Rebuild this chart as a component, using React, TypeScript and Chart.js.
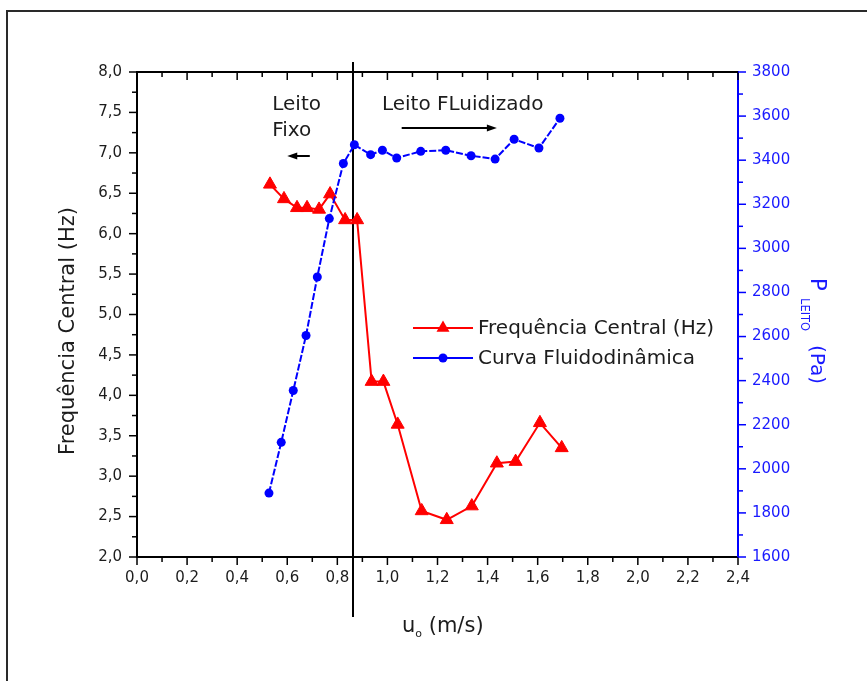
import React, { useEffect, useRef } from 'react';
import { Chart, registerables } from 'chart.js';

Chart.register(...registerables);

// Superficial gas velocity u0 (m/s) for the central-frequency runs
const freqVelocity = [0.531, 0.587, 0.639, 0.679, 0.727, 0.771, 0.831, 0.879, 0.937, 0.984, 1.041, 1.137, 1.237, 1.337, 1.437, 1.512, 1.609, 1.696];
// Central frequency of the pressure signal (Hz)
const centralFrequency = [6.61, 6.43, 6.32, 6.32, 6.3, 6.49, 6.17, 6.17, 4.17, 4.17, 3.64, 2.57, 2.46, 2.63, 3.16, 3.18, 3.66, 3.35];
// Superficial gas velocity u0 (m/s) for the fluid-dynamic curve
const pressureVelocity = [0.527, 0.576, 0.624, 0.675, 0.72, 0.768, 0.824, 0.868, 0.933, 0.98, 1.037, 1.133, 1.233, 1.334, 1.43, 1.506, 1.605, 1.689];
// Bed pressure drop (Pa)
const bedPressure = [1890, 2120, 2355, 2605, 2870, 3135, 3385, 3470, 3425, 3445, 3410, 3440, 3445, 3420, 3405, 3495, 3455, 3590];

// Minimum fluidization velocity (m/s), marked by the vertical line
const minFluidizationVelocity = 0.863;

// Tick values of each axis
const velocityTicks = [0, 0.2, 0.4, 0.6, 0.8, 1.0, 1.2, 1.4, 1.6, 1.8, 2.0, 2.2, 2.4];
const frequencyTicks = [2.0, 2.5, 3.0, 3.5, 4.0, 4.5, 5.0, 5.5, 6.0, 6.5, 7.0, 7.5, 8.0];
const pressureTicks = [1600, 1800, 2000, 2200, 2400, 2600, 2800, 3000, 3200, 3400, 3600, 3800];

const seriesNames = ['Frequência Central (Hz)', 'Curva Fluidodinâmica'];

const RED = '#ff0000';
const BLUE = '#0000ff';
const BLUE_TEXT = '#1a1aff';
const INK = '#1c1c1c';
const FONT = '"DejaVu Sans", "Liberation Sans", sans-serif';

const commaLabel = (v: number) => Number(v).toFixed(1).replace('.', ',');

const midpoints = (vals: number[]) => {
  const out: number[] = [];
  for (let i = 0; i < vals.length - 1; i++) out.push((vals[i] + vals[i + 1]) / 2);
  return out;
};

function triangle(ctx: CanvasRenderingContext2D, x: number, y: number, r: number) {
  ctx.beginPath();
  for (let k = 0; k < 3; k++) {
    const ang = (k * 2 * Math.PI) / 3;
    const px = x + Math.sin(ang) * r;
    const py = y - Math.cos(ang) * r;
    if (k === 0) ctx.moveTo(px, py);
    else ctx.lineTo(px, py);
  }
  ctx.closePath();
  ctx.fill();
}

function arrow(ctx: CanvasRenderingContext2D, x0: number, x1: number, y: number) {
  const dir = Math.sign(x1 - x0);
  ctx.beginPath();
  ctx.moveTo(x0, y);
  ctx.lineTo(x1 - dir * 6, y);
  ctx.stroke();
  ctx.beginPath();
  ctx.moveTo(x1, y);
  ctx.lineTo(x1 - dir * 10, y - 3.5);
  ctx.lineTo(x1 - dir * 10, y + 3.5);
  ctx.closePath();
  ctx.fill();
}

const decorations = {
  id: 'decorations',
  beforeDatasetsDraw(chart: any) {
    const { ctx, chartArea: a, scales } = chart;
    const px = Math.round(scales.x.getPixelForValue(minFluidizationVelocity));
    ctx.save();
    ctx.strokeStyle = '#000';
    ctx.lineWidth = 2;
    ctx.beginPath();
    ctx.moveTo(px, a.top - 10);
    ctx.lineTo(px, a.bottom + 60);
    ctx.stroke();
    ctx.restore();
  },
  afterDraw(chart: any) {
    const { ctx, chartArea: a, scales } = chart;
    const { x, y, y1 } = scales;
    ctx.save();

    // outer frame
    ctx.strokeStyle = '#2a2a2a';
    ctx.lineWidth = 2;
    ctx.beginPath();
    ctx.moveTo(7, chart.height + 2);
    ctx.lineTo(7, 11);
    ctx.lineTo(chart.width + 2, 11);
    ctx.stroke();

    // top axis line
    ctx.strokeStyle = '#000';
    ctx.beginPath();
    ctx.moveTo(a.left, a.top);
    ctx.lineTo(a.right, a.top);
    ctx.stroke();

    // tick marks
    const MAJ = 8;
    const MIN = 5;
    ctx.lineWidth = 1.5;
    const xs = velocityTicks;
    const drawX = (vals: number[], len: number) => {
      vals.forEach((v) => {
        const p = x.getPixelForValue(v);
        ctx.beginPath();
        ctx.moveTo(p, a.bottom);
        ctx.lineTo(p, a.bottom + len);
        ctx.moveTo(p, a.top);
        ctx.lineTo(p, a.top + len);
        ctx.stroke();
      });
    };
    ctx.strokeStyle = '#000';
    drawX(xs, MAJ);
    drawX(midpoints(xs), MIN);

    const drawY = (scale: any, vals: number[], len: number, side: number, base: number) => {
      vals.forEach((v) => {
        const p = scale.getPixelForValue(v);
        ctx.beginPath();
        ctx.moveTo(base, p);
        ctx.lineTo(base + side * len, p);
        ctx.stroke();
      });
    };
    drawY(y, frequencyTicks, MAJ, -1, a.left);
    drawY(y, midpoints(frequencyTicks), MIN, -1, a.left);
    ctx.strokeStyle = BLUE;
    drawY(y1, pressureTicks, MAJ, 1, a.right);
    drawY(y1, midpoints(pressureTicks), MIN, 1, a.right);

    // axis titles
    ctx.fillStyle = INK;
    ctx.textBaseline = 'alphabetic';
    ctx.font = `21px ${FONT}`;
    ctx.save();
    ctx.translate(73.5, 331);
    ctx.rotate(-Math.PI / 2);
    ctx.textAlign = 'center';
    ctx.fillText('Frequência Central (Hz)', 0, 0);
    ctx.restore();

    // bottom title: u0 (m/s)
    ctx.textAlign = 'left';
    let tx = 402;
    const by = 632;
    ctx.font = `21px ${FONT}`;
    ctx.fillText('u', tx, by);
    tx += ctx.measureText('u').width;
    ctx.font = `11px ${FONT}`;
    ctx.fillText('o', tx, by + 5);
    tx += ctx.measureText('o').width;
    ctx.font = `21px ${FONT}`;
    ctx.fillText(' (m/s)', tx, by);

    // right title: P_LEITO (Pa)
    ctx.save();
    ctx.fillStyle = BLUE_TEXT;
    ctx.translate(811, 278);
    ctx.rotate(Math.PI / 2);
    ctx.textAlign = 'left';
    ctx.font = `21px ${FONT}`;
    ctx.fillText('P', 0, 0);
    ctx.font = `11.5px ${FONT}`;
    ctx.fillText('LEITO', 20, 10);
    ctx.font = `20px ${FONT}`;
    ctx.fillText('(Pa)', 67, 0);
    ctx.restore();

    // regime annotations
    ctx.fillStyle = INK;
    ctx.strokeStyle = '#000';
    ctx.lineWidth = 2;
    ctx.font = `20px ${FONT}`;
    ctx.textBaseline = 'middle';
    ctx.textAlign = 'left';
    ctx.fillText('Leito', x.getPixelForValue(0.54), y.getPixelForValue(7.6));
    ctx.fillText('Fixo', x.getPixelForValue(0.54), y.getPixelForValue(7.27));
    ctx.fillText('Leito FLuidizado', x.getPixelForValue(0.978), y.getPixelForValue(7.59));
    ctx.fillStyle = '#000';
    arrow(ctx, x.getPixelForValue(0.69), x.getPixelForValue(0.6), Math.round(y.getPixelForValue(6.96)));
    arrow(ctx, x.getPixelForValue(1.057), x.getPixelForValue(1.437), Math.round(y.getPixelForValue(7.31)));

    // legend
    const lx0 = a.left + 276;
    const lx1 = a.left + 336;
    const rows = [
      { y: a.top + 256, color: RED, style: 'triangle' },
      { y: a.top + 286, color: BLUE, style: 'circle' },
    ];
    rows.forEach((r, i) => {
      ctx.strokeStyle = r.color;
      ctx.fillStyle = r.color;
      ctx.lineWidth = 2;
      ctx.beginPath();
      ctx.moveTo(lx0, r.y);
      ctx.lineTo(lx1, r.y);
      ctx.stroke();
      const cx = (lx0 + lx1) / 2;
      if (r.style === 'triangle') triangle(ctx, cx, r.y, 7.5);
      else {
        ctx.beginPath();
        ctx.arc(cx, r.y, 4.5, 0, Math.PI * 2);
        ctx.fill();
      }
      ctx.fillStyle = INK;
      ctx.font = `20px ${FONT}`;
      ctx.textBaseline = 'middle';
      ctx.fillText(seriesNames[i], lx1 + 5, r.y + 1);
    });

    ctx.restore();
  },
};

export default function App() {
  const ref = useRef<HTMLCanvasElement>(null);

  useEffect(() => {
    if (!ref.current) return;
    Chart.defaults.font.family = FONT;
    const chart = new Chart(ref.current, {
      type: 'line',
      data: {
        datasets: [
          {
            label: seriesNames[0],
            data: freqVelocity.map((u, i) => ({ x: u, y: centralFrequency[i] })),
            xAxisID: 'x',
            yAxisID: 'y',
            borderColor: RED,
            backgroundColor: RED,
            borderWidth: 2,
            pointStyle: 'triangle',
            pointRadius: 7.5,
            pointBorderWidth: 1,
            tension: 0,
            order: 1,
          },
          {
            label: seriesNames[1],
            data: pressureVelocity.map((u, i) => ({ x: u, y: bedPressure[i] })),
            xAxisID: 'x',
            yAxisID: 'y1',
            borderColor: BLUE,
            backgroundColor: BLUE,
            borderWidth: 2,
            borderDash: [7, 2],
            pointStyle: 'circle',
            pointRadius: 4.5,
            pointBorderWidth: 0,
            tension: 0,
            order: 0,
          },
        ],
      },
      options: {
        responsive: false,
        animation: false,
        events: [],
        layout: { padding: { top: 72, left: 0, right: 0, bottom: 0 } },
        plugins: {
          legend: { display: false },
          tooltip: { enabled: false },
        },
        scales: {
          x: {
            type: 'linear',
            position: 'bottom',
            min: 0,
            max: 2.4,
            afterBuildTicks: (s: any) => {
              s.ticks = velocityTicks.map((v) => ({ value: v }));
            },
            afterFit: (s: any) => {
              s.height = 124;
            },
            grid: { display: false, drawTicks: false },
            border: { display: true, color: '#000', width: 2 },
            ticks: {
              autoSkip: false,
              maxRotation: 0,
              padding: 12,
              color: INK,
              font: { size: 15, family: FONT },
              callback: (v: any) => commaLabel(v),
            },
          },
          y: {
            type: 'linear',
            position: 'left',
            min: 2,
            max: 8,
            afterBuildTicks: (s: any) => {
              s.ticks = frequencyTicks.map((v) => ({ value: v }));
            },
            afterFit: (s: any) => {
              s.width = 137;
            },
            grid: { display: false, drawTicks: false },
            border: { display: true, color: '#000', width: 2 },
            ticks: {
              autoSkip: false,
              padding: 15,
              color: INK,
              font: { size: 15, family: FONT },
              callback: (v: any) => commaLabel(v),
            },
          },
          y1: {
            type: 'linear',
            position: 'right',
            min: 1600,
            max: 3800,
            afterBuildTicks: (s: any) => {
              s.ticks = pressureTicks.map((v) => ({ value: v }));
            },
            afterFit: (s: any) => {
              s.width = 129;
            },
            grid: { display: false, drawTicks: false },
            border: { display: true, color: BLUE, width: 2 },
            ticks: {
              autoSkip: false,
              padding: 14,
              color: BLUE_TEXT,
              font: { size: 15, family: FONT },
              callback: (v: any) => String(v),
            },
          },
        },
      },
      plugins: [decorations],
    });
    return () => chart.destroy();
  }, []);

  return (
    <div style={{ position: 'fixed', left: 0, top: 0, width: 867, height: 681, background: '#fff', overflow: 'hidden' }}>
      <canvas ref={ref} width={867} height={681} style={{ display: 'block' }} />
    </div>
  );
}
